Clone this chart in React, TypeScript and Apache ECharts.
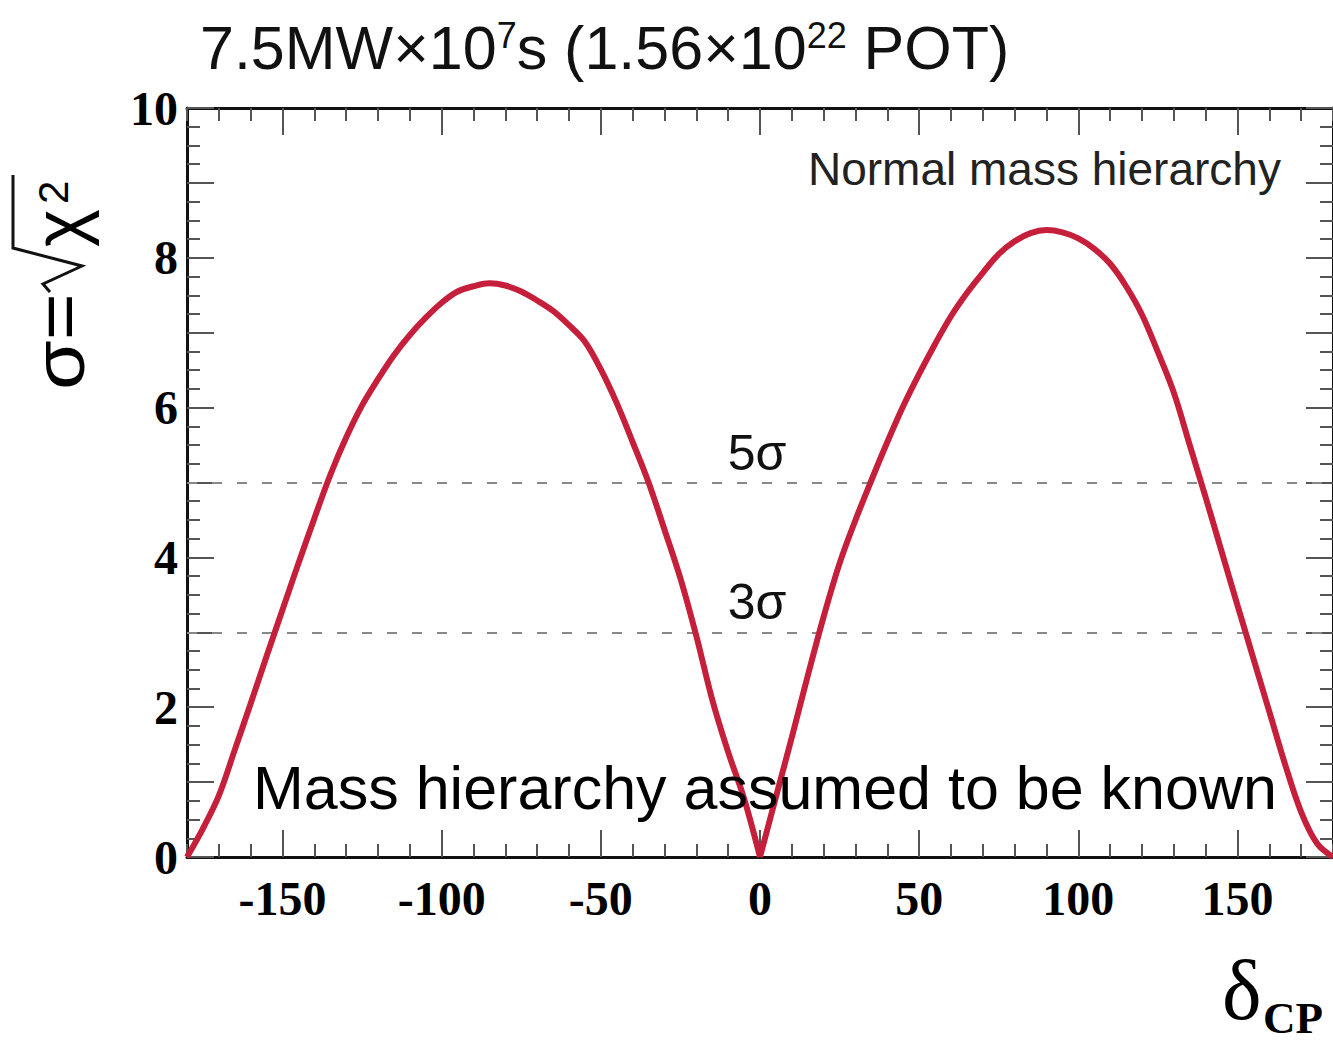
import React, { useEffect, useRef } from "react";
import * as echarts from "echarts";

// δCP values (degrees)
const deltaCP = [
  -180, -175, -170, -165, -160, -155, -150, -145, -140, -135, -130, -125, -120,
  -115, -110, -105, -100, -95, -90, -85, -80, -75, -70, -65, -60, -55, -50, -45,
  -40, -35, -30, -25, -20, -15, -10, -5, 0, 5, 10, 15, 20, 25, 30, 35, 40, 45,
  50, 55, 60, 65, 70, 75, 80, 85, 90, 95, 100, 105, 110, 115, 120, 125, 130,
  135, 140, 145, 150, 155, 160, 165, 170, 175, 180,
];
// σ = sqrt(χ²)
const sigma = [
  0.0, 0.38, 0.82, 1.43, 2.05, 2.68, 3.3, 3.92, 4.52, 5.1, 5.6, 6.03, 6.38, 6.7,
  6.97, 7.2, 7.4, 7.55, 7.62, 7.66, 7.63, 7.55, 7.43, 7.29, 7.1, 6.88, 6.51,
  6.06, 5.54, 5.0, 4.37, 3.72, 2.95, 2.1, 1.4, 0.78, 0.0, 0.8, 1.6, 2.42, 3.21,
  3.92, 4.5, 5.03, 5.54, 6.02, 6.45, 6.85, 7.22, 7.53, 7.8, 8.05, 8.22, 8.33,
  8.37, 8.34, 8.26, 8.12, 7.92, 7.62, 7.24, 6.74, 6.2, 5.5, 4.8, 4.08, 3.36,
  2.65, 1.94, 1.23, 0.6, 0.18, 0.0,
];
const sigmaLevels = [3, 5];
const sigmaLevelLabels = ["3σ", "5σ"];
const xMajorTicks = [-150, -100, -50, 0, 50, 100, 150];

const TICK = { color: "#555", width: 2 };
const AXISLINE = { show: true, onZero: false, lineStyle: { color: "#111", width: 3 } };
const LABELFONT = {
  fontFamily: "Liberation Serif",
  fontWeight: "bold" as const,
  fontSize: 48,
  color: "#000",
};
const CURVE = { color: "#c51f3b", width: 6 };

export default function App() {
  const ref = useRef<HTMLDivElement>(null);
  useEffect(() => {
    document.body.style.margin = "0";
    if (!ref.current) return;
    const chart = echarts.init(ref.current, undefined, { renderer: "svg" });
    const grid = { left: 187, right: 0, top: 108, bottom: 189 };
    const levelLabelY = (v: number) => 857 - v * 74.9 - 30;
    const points = deltaCP.map((d, i) => [d, sigma[i]]);
    const leftLobe = points.filter((p) => p[0] <= 0);
    const rightLobe = points.filter((p) => p[0] >= 0);
    chart.setOption({
      animation: false,
      backgroundColor: "#fff",
      grid: [grid, grid],
      xAxis: [
        {
          type: "value", gridIndex: 0, position: "bottom", min: -180, max: 180, interval: 10,
          axisLine: AXISLINE, axisTick: { inside: true, length: 13, lineStyle: TICK },
          axisLabel: { show: false }, splitLine: { show: false },
        },
        {
          type: "value", gridIndex: 0, position: "top", min: -180, max: 180, interval: 10,
          axisLine: AXISLINE, axisTick: { inside: true, length: 13, lineStyle: TICK },
          axisLabel: { show: false }, splitLine: { show: false },
        },
        {
          type: "value", gridIndex: 1, position: "bottom", min: -180, max: 180, interval: 10,
          axisLine: { show: false, onZero: false },
          axisTick: { inside: true, length: 27, lineStyle: TICK, customValues: xMajorTicks },
          axisLabel: { ...LABELFONT, margin: 17, customValues: xMajorTicks, formatter: (v: number) => String(v) },
          splitLine: { show: false },
        },
        {
          type: "value", gridIndex: 1, position: "top", min: -180, max: 180, interval: 10,
          axisLine: { show: false, onZero: false },
          axisTick: { inside: true, length: 27, lineStyle: TICK, customValues: xMajorTicks },
          axisLabel: { show: false }, splitLine: { show: false },
        },
      ],
      yAxis: [
        {
          type: "value", gridIndex: 0, position: "left", min: 0, max: 10, interval: 1,
          axisLine: AXISLINE,
          axisTick: { inside: true, length: 27, lineStyle: TICK },
          minorTick: { show: true, splitNumber: 4, length: 13, lineStyle: TICK },
          axisLabel: { ...LABELFONT, margin: 9, formatter: (v: number) => (v % 2 === 0 ? String(v) : "") },
          splitLine: { show: false }, minorSplitLine: { show: false },
        },
        {
          type: "value", gridIndex: 0, position: "right", min: 0, max: 10, interval: 1,
          axisLine: AXISLINE,
          axisTick: { inside: true, length: 27, lineStyle: TICK },
          minorTick: { show: true, splitNumber: 4, length: 13, lineStyle: TICK },
          axisLabel: { show: false },
          splitLine: { show: false }, minorSplitLine: { show: false },
        },
        { type: "value", gridIndex: 1, min: 0, max: 10, show: false },
        { type: "value", gridIndex: 1, min: 0, max: 10, show: false },
      ],
      series: [
        {
          type: "line",
          xAxisIndex: 0,
          yAxisIndex: 0,
          data: leftLobe,
          showSymbol: false,
          smooth: 0.35,
          lineStyle: CURVE,
          z: 5,
          markLine: {
            silent: true,
            symbol: ["none", "none"],
            label: { show: false },
            lineStyle: { type: [10, 15], color: "#888", width: 2 },
            data: sigmaLevels.map((v) => ({ yAxis: v })),
            z: 3,
          },
        },
        {
          type: "line",
          xAxisIndex: 0,
          yAxisIndex: 0,
          data: rightLobe,
          showSymbol: false,
          smooth: 0.35,
          lineStyle: CURVE,
          z: 5,
        },
      ],
      graphic: [
        {
          type: "text", x: 200, y: 48, z: 100,
          style: {
            text: "{a|7.5MW×10}{s|7}{a|s (1.56×10}{s|22}{a| POT)}",
            verticalAlign: "middle",
            rich: {
              a: { fontSize: 61, fontFamily: "Liberation Sans", fill: "#111" },
              s: { fontSize: 36, fontFamily: "Liberation Sans", fill: "#111", verticalAlign: "top" },
            },
          },
        },
        {
          type: "text", x: 808, y: 169, z: 100,
          style: { text: "Normal mass hierarchy", fontSize: 46, fontFamily: "Liberation Sans", fill: "#222", verticalAlign: "middle" },
        },
        {
          type: "text", x: 253, y: 788, z: 100,
          style: { text: "Mass hierarchy assumed to be known", fontSize: 61, fontFamily: "Liberation Sans", fill: "#000", verticalAlign: "middle" },
        },
        ...sigmaLevels.map((v, i) => ({
          type: "text", x: 757, y: levelLabelY(v), z: 100,
          style: { text: sigmaLevelLabels[i], fontSize: 50, fontFamily: "Liberation Sans", fill: "#111", align: "center", verticalAlign: "middle" },
        })),
        // y-axis title σ=√χ²
        {
          type: "text", x: 59, y: 390, rotation: Math.PI / 2, scaleX: 1.12, z: 100,
          style: { text: "σ=", fontSize: 72, fontFamily: "Liberation Sans", fill: "#000", align: "left", verticalAlign: "middle" },
        },
        {
          type: "polyline", z: 100,
          shape: { points: [[13, 175], [13, 248], [82, 266], [43, 284], [50, 292]] },
          style: { stroke: "#111", lineWidth: 3, fill: null },
        },
        {
          type: "text", x: 59, y: 247, rotation: Math.PI / 2, z: 100,
          style: { text: "χ", fontSize: 72, fontFamily: "Liberation Sans", fill: "#000", align: "left", verticalAlign: "middle" },
        },
        {
          type: "text", x: 53, y: 204, rotation: Math.PI / 2, z: 100,
          style: { text: "2", fontSize: 42, fontFamily: "Liberation Sans", fill: "#000", align: "left", verticalAlign: "middle" },
        },
        // x-axis title δCP
        {
          type: "text", x: 1222, y: 990, z: 100,
          style: { text: "δ", fontSize: 84, fontFamily: "Liberation Serif", fill: "#000", align: "left", verticalAlign: "middle" },
        },
        {
          type: "text", x: 1263, y: 1018, z: 100,
          style: { text: "CP", fontSize: 45, fontWeight: "bold", fontFamily: "Liberation Serif", fill: "#000", align: "left", verticalAlign: "middle" },
        },
      ],
    });
    return () => chart.dispose();
  }, []);
  return <div ref={ref} style={{ width: 1333, height: 1046 }} />;
}
